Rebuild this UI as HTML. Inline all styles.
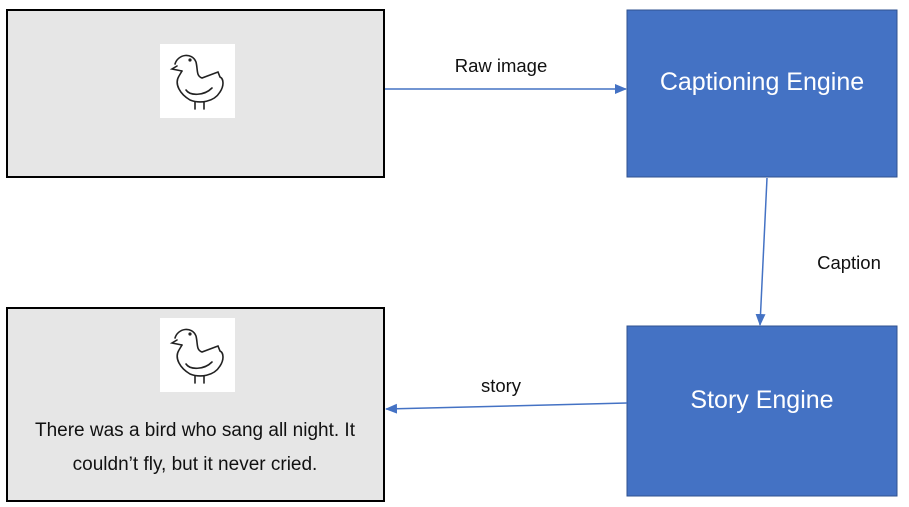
<!DOCTYPE html>
<html><head><style>body{margin:0;background:#fff}svg{display:block}text{font-family:"Liberation Sans",sans-serif}</style></head><body>
<svg width="909" height="507" viewBox="0 0 909 507">
<defs><marker id="a" markerWidth="12" markerHeight="10" refX="11" refY="5" orient="auto" markerUnits="userSpaceOnUse"><path d="M0,0 L12,5 L0,10 Z" fill="#4472c4"/></marker>
<g id="bird"><rect x="0" y="0" width="75" height="74" fill="#fff"/>
<g fill="none" stroke="#222" stroke-width="1.6" stroke-linecap="round">
<path d="M15,20 C18,10 32,8 36,18 C38,26 36,32 42,34 L58,28 L60,33 C64,35 64,42 60,48 C54,58 40,60 30,56 C20,50 14,40 19,32 L22,27"/>
<path d="M22,27 L12,25 L17,22"/>
<path d="M26,46 C30,52 44,52 52,44"/>
<path d="M35,58 L35,65 M44,58 L44,65"/></g>
<circle cx="30" cy="16" r="1.6" fill="#222"/></g></defs>
<rect x="7" y="10" width="377" height="167" fill="#e6e6e6" stroke="#000" stroke-width="2"/>
<use href="#bird" x="160" y="44"/>
<rect x="7" y="308" width="377" height="193" fill="#e6e6e6" stroke="#000" stroke-width="2"/>
<use href="#bird" x="160" y="318"/>
<text x="195" y="436" font-size="19" text-anchor="middle" fill="#111">There was a bird who sang all night. It</text>
<text x="195" y="470" font-size="19" text-anchor="middle" fill="#111">couldn’t fly, but it never cried.</text>
<rect x="627" y="10" width="270" height="167" fill="#4472c4" stroke="#2f528f" stroke-width="1"/>
<text x="762" y="90" font-size="25" text-anchor="middle" fill="#fff">Captioning Engine</text>
<rect x="627" y="326" width="270" height="170" fill="#4472c4" stroke="#2f528f" stroke-width="1"/>
<text x="762" y="408" font-size="25" text-anchor="middle" fill="#fff">Story Engine</text>
<line x1="385" y1="89" x2="626" y2="89" stroke="#4472c4" stroke-width="1.5" marker-end="url(#a)"/>
<text x="501" y="72" font-size="18.5" text-anchor="middle" fill="#111">Raw image</text>
<line x1="767" y1="178" x2="760" y2="325" stroke="#4472c4" stroke-width="1.5" marker-end="url(#a)"/>
<text x="849" y="269" font-size="18.5" text-anchor="middle" fill="#111">Caption</text>
<line x1="627" y1="403" x2="386" y2="409" stroke="#4472c4" stroke-width="1.5" marker-end="url(#a)"/>
<text x="501" y="392" font-size="18.5" text-anchor="middle" fill="#111">story</text>
</svg></body></html>
